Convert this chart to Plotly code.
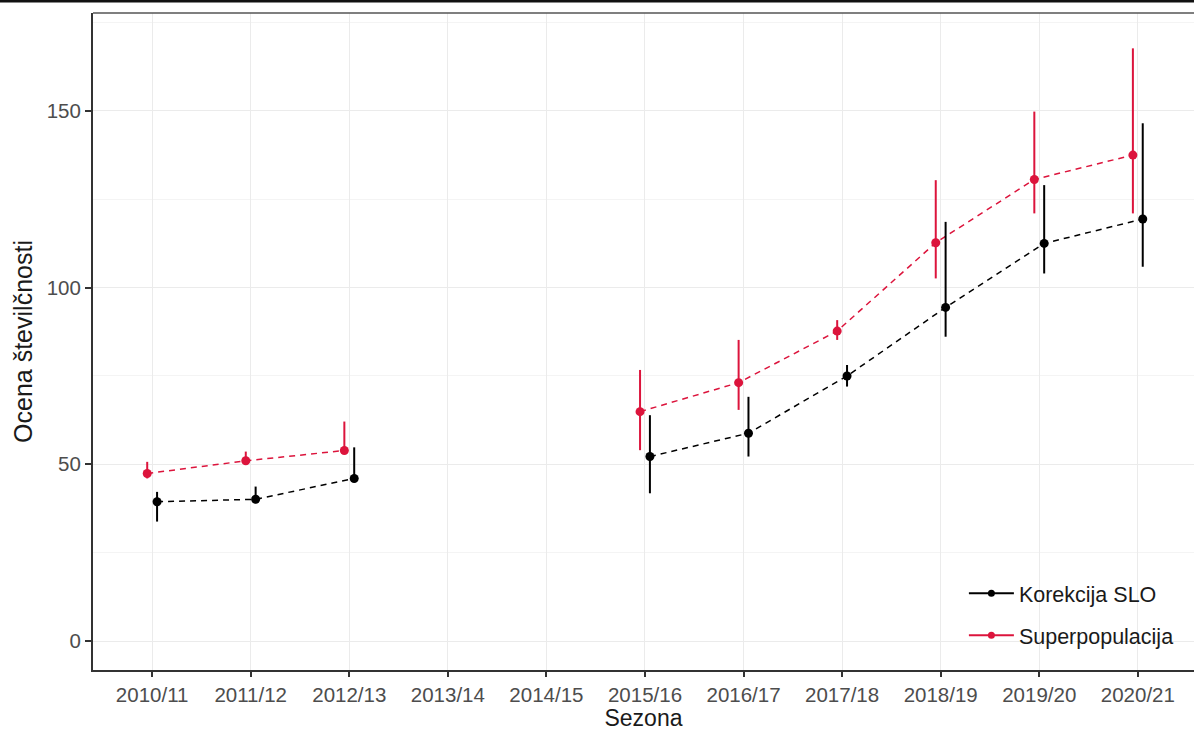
import plotly.graph_objects as go

# ---- data ----
seasons = ["2010/11", "2011/12", "2012/13", "2013/14", "2014/15", "2015/16",
           "2016/17", "2017/18", "2018/19", "2019/20", "2020/21"]

korekcija = [39.4, 40.1, 46.0, None, None, 52.2, 58.8, 75.0, 94.4, 112.5, 119.4]
korekcija_lo = [33.8, 39.0, 45.6, None, None, 41.8, 52.2, 72.0, 86.1, 104.0, 105.9]
korekcija_hi = [42.2, 43.7, 54.8, None, None, 63.9, 69.1, 78.1, 118.6, 129.0, 146.5]

superpop = [47.4, 51.0, 53.9, None, None, 64.9, 73.1, 87.7, 112.7, 130.6, 137.5]
superpop_lo = [46.0, 49.8, 53.5, None, None, 54.0, 65.4, 85.2, 102.6, 121.0, 121.0]
superpop_hi = [50.7, 53.6, 62.1, None, None, 76.7, 85.2, 90.8, 130.4, 149.8, 167.7]

y_ticks = [0, 50, 100, 150]
y_minor = [25, 75, 125, 175]

RED = "#DC143C"
BLACK = "#000000"
DODGE = 0.05

x_idx = list(range(len(seasons)))


def err(v, lo, hi):
    plus = [None if a is None else h - a for a, h in zip(v, hi)]
    minus = [None if a is None else a - l for a, l in zip(v, lo)]
    return plus, minus


fig = go.Figure()

sp_plus, sp_minus = err(superpop, superpop_lo, superpop_hi)
ko_plus, ko_minus = err(korekcija, korekcija_lo, korekcija_hi)

fig.add_trace(go.Scatter(
    x=[i - DODGE for i in x_idx], y=superpop, mode="lines+markers",
    line=dict(color=RED, width=1.5, dash="6px,5px"),
    marker=dict(color=RED, size=9),
    error_y=dict(type="data", symmetric=False, array=sp_plus, arrayminus=sp_minus,
                 color=RED, thickness=2, width=0),
    connectgaps=False, showlegend=False, name="Superpopulacija"))

fig.add_trace(go.Scatter(
    x=[i + DODGE for i in x_idx], y=korekcija, mode="lines+markers",
    line=dict(color=BLACK, width=1.5, dash="6px,5px"),
    marker=dict(color=BLACK, size=9),
    error_y=dict(type="data", symmetric=False, array=ko_plus, arrayminus=ko_minus,
                 color=BLACK, thickness=2, width=0),
    connectgaps=False, showlegend=False, name="Korekcija SLO"))

# legend keys
fig.add_trace(go.Scatter(x=[None], y=[None], mode="lines+markers",
                         line=dict(color=BLACK, width=2), marker=dict(color=BLACK, size=7),
                         name="Korekcija SLO", legendgroup="a"))
fig.add_trace(go.Scatter(x=[None], y=[None], mode="lines+markers",
                         line=dict(color=RED, width=2), marker=dict(color=RED, size=7),
                         name="Superpopulacija", legendgroup="b"))

X_RANGE = [-0.6, 10.57]
Y_RANGE = [-8.2, 177.7]

FONT = "Liberation Sans, Arial, sans-serif"

fig.update_layout(
    width=1194, height=731,
    margin=dict(l=93, r=0, t=13, b=61),
    paper_bgcolor="white", plot_bgcolor="white",
    font=dict(family=FONT, color="#4d4d4d"),
    legend=dict(x=0.791, xanchor="left", y=0.148, yanchor="top",
                bgcolor="rgba(255,255,255,0)", font=dict(size=21.5, color="#1a1a1a"),
                tracegroupgap=11, traceorder="grouped", itemwidth=45),
    xaxis=dict(range=X_RANGE, tickvals=x_idx, ticktext=seasons,
               showgrid=True, gridcolor="#ebebeb", gridwidth=1,
               zeroline=False, showline=True, linecolor="#333333", linewidth=2,
               ticks="outside", ticklen=5, tickcolor="#333333", tickwidth=1.5,
               tickfont=dict(size=20.5, color="#4d4d4d"),
               title=dict(text="Sezona", font=dict(size=23, color="#1a1a1a"), standoff=3)),
    yaxis=dict(range=Y_RANGE, tickvals=y_ticks,
               showgrid=True, gridcolor="#ebebeb", gridwidth=1,
               minor=dict(tickvals=y_minor, showgrid=True, gridcolor="#f4f4f4", gridwidth=1, ticks=""),
               zeroline=False, showline=True, linecolor="#333333", linewidth=2,
               ticks="outside", ticklen=6, tickcolor="#333333", tickwidth=1.5,
               tickfont=dict(size=20.5, color="#4d4d4d"),
               title=dict(text="Ocena številčnosti", font=dict(size=25, color="#1a1a1a"), standoff=7)),
    shapes=[
        # legend background (covers gridlines)
        dict(type="rect", xref="x", yref="y", layer="below",
             x0=8.145, x1=X_RANGE[1], y0=Y_RANGE[0], y1=34.2,
             fillcolor="white", line=dict(width=0)),
        # top panel border
        dict(type="line", xref="paper", yref="paper", x0=0, x1=1, y0=1, y1=1,
             line=dict(color="#555555", width=1.5)),
        # outer top line
        dict(type="line", xref="paper", yref="paper", x0=-0.0845, x1=1, y0=1.0178, y1=1.0178,
             line=dict(color="#111111", width=2.5)),
    ],
)

fig.write_html("out.html")
